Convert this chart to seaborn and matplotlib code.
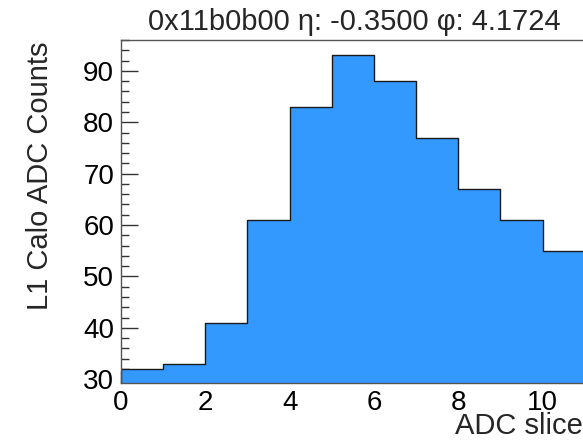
import numpy as np
import pandas as pd
import matplotlib
matplotlib.use("Agg")
import matplotlib.pyplot as plt
import seaborn as sns
from matplotlib.ticker import MultipleLocator

# Data
bin_edges = [0, 1, 2, 3, 4, 5, 6, 7, 8, 9, 10, 11]
bin_centers = [0.5, 1.5, 2.5, 3.5, 4.5, 5.5, 6.5, 7.5, 8.5, 9.5, 10.5]
counts = [32, 33, 41, 61, 83, 93, 88, 77, 67, 61, 55]
title_text = "0x11b0b00 η: -0.3500 φ: 4.1724"
x_label = "ADC slice"
y_label = "L1 Calo ADC Counts"

sns.set_style("white")
plt.rcParams['font.family'] = ['Liberation Sans', 'DejaVu Sans']

df = pd.DataFrame({"slice": bin_centers, "count": counts})

fig = plt.figure(figsize=(5.83, 4.43), dpi=100)
ax = fig.add_axes([121/583, 1 - 383.3/443, 1 - 121/583 + 0.003, (383.3 - 40)/443])

sns.histplot(data=df, x="slice", weights="count", bins=bin_edges,
             element="step", fill=True, color="#3399ff", alpha=1.0,
             edgecolor="#1a1a1a", linewidth=1.0, ax=ax)

ax.set_xlim(0, 11)
ax.set_ylim(29.2, 96.0)

ax.xaxis.set_major_locator(MultipleLocator(2))
ax.xaxis.set_minor_locator(MultipleLocator(0.5))
ax.yaxis.set_major_locator(MultipleLocator(10))
ax.yaxis.set_minor_locator(MultipleLocator(2))

ax.tick_params(axis='both', which='both', direction='in', colors='#333333',
               labelcolor='black', labelsize=20, width=1,
               bottom=True, left=True, top=False, right=False)
ax.tick_params(axis='x', which='major', length=9, pad=5)
ax.tick_params(axis='x', which='minor', length=4.5)
ax.tick_params(axis='y', which='major', length=12, pad=5)
ax.tick_params(axis='y', which='minor', length=6)

for s in ax.spines.values():
    s.set_color('#555555')
    s.set_linewidth(1.0)
    s.set_visible(True)

ax.set_xlabel("")
ax.set_ylabel("")
fig.text(583/583, 1 - 426/443, x_label, ha='right', va='center', fontsize=21)
fig.text(40/583, 1 - 42/443, y_label, ha='center', va='top', rotation=90, fontsize=21)
fig.text(354/583, 1 - 22/443, title_text, ha='center', va='center', fontsize=21)
ax.set_title("")

fig.savefig("out.png", dpi=100)
